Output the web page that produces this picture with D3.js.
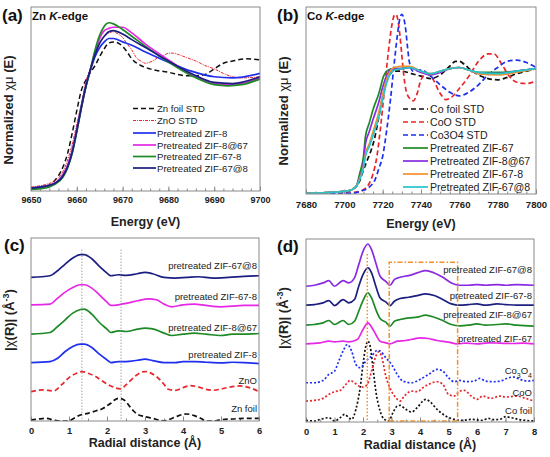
<!DOCTYPE html>
<html>
<head>
<meta charset="utf-8">
<script src="https://cdn.jsdelivr.net/npm/d3@7"></script>
<style>
  body { margin: 0; background: #fff; }
  svg { font-family: Arial, "Liberation Sans", sans-serif; }
</style>
</head>
<body>
<svg id="fig" width="550" height="457"></svg>
<script>
// ---------- (a) Zn K-edge XANES : [energy eV, normalized mu] ----------
const aZnFoil = [[9650,0.01],[9653,0.02],[9655,0.07],[9657,0.20],[9658,0.32],[9659,0.50],[9660,0.70],[9661,0.88],[9662,0.97],[9663,1.04],[9664,1.10],[9665,1.18],[9666,1.25],[9667,1.30],[9668,1.31],[9669,1.30],[9670,1.27],[9671,1.22],[9672,1.16],[9674,1.10],[9676,1.07],[9680,1.04],[9684,1.01],[9686,1.01],[9688,1.02],[9690,1.07],[9692,1.12],[9694,1.14],[9697,1.16],[9700,1.15]];
const aZnO = [[9650,0.02],[9655,0.07],[9657,0.16],[9658,0.26],[9659,0.40],[9660,0.58],[9661,0.76],[9662,0.96],[9663,1.08],[9664,1.21],[9665,1.30],[9666,1.36],[9667,1.39],[9668,1.40],[9669,1.38],[9670,1.35],[9671,1.29],[9672,1.24],[9673,1.17],[9674,1.14],[9675,1.12],[9676,1.13],[9677,1.15],[9678,1.18],[9679,1.19],[9680,1.21],[9681,1.21],[9682,1.20],[9684,1.17],[9686,1.14],[9688,1.10],[9690,1.07],[9692,1.03],[9694,1.00],[9696,0.99],[9700,1.00]];
const aZif8 = [[9650,0.01],[9655,0.05],[9657,0.13],[9658,0.21],[9659,0.34],[9660,0.53],[9661,0.74],[9662,0.92],[9663,1.06],[9664,1.18],[9665,1.26],[9666,1.31],[9667,1.34],[9668,1.34],[9670,1.31],[9672,1.28],[9675,1.22],[9680,1.13],[9685,1.05],[9690,1.00],[9694,0.99],[9700,1.03]];
const aZif8at67 = [[9650,0.01],[9655,0.05],[9657,0.13],[9658,0.21],[9659,0.34],[9660,0.53],[9661,0.73],[9662,0.92],[9663,1.07],[9664,1.22],[9665,1.34],[9666,1.41],[9667,1.43],[9668,1.44],[9670,1.44],[9672,1.39],[9675,1.29],[9680,1.15],[9685,1.02],[9690,0.94],[9693,0.93],[9696,0.94],[9700,0.99]];
const aZif67_8 = [[9650,0.00],[9653,0.01],[9655,0.04],[9657,0.11],[9658,0.19],[9659,0.32],[9660,0.51],[9661,0.72],[9662,0.91],[9663,1.07],[9664,1.24],[9665,1.37],[9666,1.45],[9667,1.48],[9668,1.47],[9670,1.42],[9672,1.36],[9675,1.27],[9680,1.13],[9685,1.01],[9690,0.93],[9693,0.92],[9696,0.93],[9700,0.98]];
const aZif67at8 = [[9650,0.01],[9655,0.05],[9657,0.12],[9658,0.20],[9659,0.33],[9660,0.52],[9661,0.73],[9662,0.92],[9663,1.07],[9664,1.20],[9665,1.30],[9666,1.36],[9667,1.40],[9668,1.41],[9670,1.38],[9672,1.33],[9675,1.26],[9680,1.14],[9685,1.03],[9690,0.95],[9694,0.94],[9700,1.00]];
const aLabels = ["Zn foil STD", "ZnO STD", "Pretreated ZIF-8", "Pretreated ZIF-8@67", "Pretreated ZIF-67-8", "Pretreated ZIF-67@8"];

// ---------- (b) Co K-edge XANES ----------
const bCoFoil = [[7680,0.00],[7700,0.01],[7705,0.04],[7708,0.10],[7710,0.19],[7712,0.27],[7714,0.35],[7716,0.46],[7718,0.62],[7720,0.78],[7722,0.91],[7724,0.97],[7726,0.99],[7730,0.99],[7735,0.97],[7740,0.95],[7745,0.93],[7750,0.96],[7755,1.03],[7758,1.07],[7760,1.07],[7763,1.04],[7766,1.00],[7770,0.96],[7775,0.93],[7780,0.92],[7785,0.94],[7790,0.97],[7795,0.99],[7800,1.01]];
const bCoO = [[7680,0.00],[7700,0.00],[7706,0.01],[7710,0.03],[7713,0.08],[7715,0.16],[7717,0.30],[7719,0.55],[7721,0.85],[7723,1.15],[7725,1.38],[7726,1.44],[7727,1.45],[7728,1.40],[7729,1.28],[7730,1.12],[7731,0.96],[7732,0.85],[7734,0.77],[7736,0.75],[7738,0.81],[7740,0.92],[7743,0.97],[7746,0.93],[7750,0.81],[7753,0.76],[7756,0.78],[7760,0.85],[7765,0.95],[7770,1.07],[7775,1.13],[7778,1.13],[7782,1.05],[7786,0.95],[7790,0.90],[7795,0.89],[7800,0.91]];
const bCo3O4 = [[7680,0.00],[7703,0.00],[7709,0.02],[7713,0.05],[7716,0.11],[7718,0.20],[7720,0.30],[7722,0.50],[7724,0.75],[7726,1.05],[7728,1.32],[7729,1.42],[7730,1.45],[7731,1.42],[7732,1.33],[7733,1.18],[7734,1.06],[7736,0.99],[7740,1.00],[7745,0.95],[7750,0.88],[7755,0.82],[7760,0.79],[7765,0.82],[7770,0.88],[7775,0.96],[7780,1.02],[7785,1.07],[7790,1.08],[7795,1.06],[7800,1.02]];
const bZif67 = [[7680,0.00],[7695,0.01],[7702,0.02],[7706,0.05],[7708,0.16],[7710,0.30],[7711,0.46],[7713,0.57],[7715,0.68],[7718,0.81],[7720.5,0.95],[7723,1.00],[7726,1.01],[7730,1.01],[7734,1.02],[7740,0.99],[7745,0.96],[7750,0.99],[7755,1.01],[7760,1.02],[7765,1.00],[7770,0.98],[7780,0.98],[7790,0.99],[7800,1.01]];
const bZif8at67 = [[7680,0.00],[7695,0.01],[7702,0.02],[7706,0.05],[7708,0.13],[7710,0.25],[7711,0.40],[7713,0.50],[7715,0.60],[7718,0.74],[7720,0.86],[7722,0.95],[7724,1.00],[7726,1.01],[7730,1.01],[7734,1.02],[7740,0.98],[7745,0.96],[7750,0.98],[7755,1.01],[7760,1.02],[7765,1.00],[7770,0.97],[7780,0.97],[7790,0.99],[7800,1.01]];
const bZif67_8 = [[7680,0.00],[7695,0.01],[7702,0.02],[7706,0.05],[7708,0.12],[7710,0.22],[7711,0.32],[7713,0.40],[7715,0.50],[7718,0.66],[7720,0.80],[7722,0.92],[7724,0.99],[7726,1.02],[7730,1.03],[7734,1.03],[7740,0.99],[7745,0.97],[7750,0.99],[7755,1.01],[7760,1.02],[7765,1.00],[7770,0.97],[7780,0.96],[7790,0.98],[7800,1.01]];
const bZif67at8 = [[7680,0.00],[7695,0.01],[7702,0.02],[7706,0.05],[7708,0.11],[7710,0.21],[7711,0.30],[7713,0.38],[7715,0.47],[7718,0.62],[7720,0.76],[7722,0.89],[7724,0.97],[7726,1.00],[7730,1.01],[7734,1.02],[7740,0.99],[7745,0.97],[7750,0.99],[7755,1.01],[7760,1.02],[7765,1.00],[7770,0.98],[7780,0.97],[7790,0.99],[7800,1.01]];
const bLabels = ["Co foil STD", "CoO STD", "Co3O4 STD", "Pretreated ZIF-67", "Pretreated ZIF-8@67", "Pretreated ZIF-67-8", "Pretreated ZIF-67@8"];

// ---------- (c) Zn EXAFS |chi(R)| (stacked, offsets included) ----------
const cZnFoil = [[0,0.03],[0.2,0.06],[0.4,0.08],[0.6,0.03],[0.8,0],[1.0,0],[1.1,0.06],[1.3,0.18],[1.5,0.23],[1.7,0.30],[1.9,0.38],[2.0,0.46],[2.1,0.53],[2.2,0.63],[2.3,0.68],[2.4,0.66],[2.5,0.58],[2.6,0.43],[2.7,0.30],[2.8,0.20],[3.0,0.13],[3.2,0.08],[3.4,0.02],[3.5,0],[3.6,0.03],[3.8,0.12],[4.0,0.20],[4.1,0.21],[4.3,0.16],[4.5,0.06],[4.6,0],[4.8,0],[5.0,0.04],[5.3,0.06],[5.6,0.08],[6.0,0.08]];
const cZnO = [[0,0.88],[0.3,0.93],[0.6,0.90],[0.8,1.08],[1.0,1.30],[1.2,1.43],[1.35,1.48],[1.5,1.43],[1.7,1.33],[1.9,1.18],[2.1,1.05],[2.35,0.96],[2.5,1.08],[2.7,1.30],[2.9,1.46],[3.0,1.48],[3.1,1.46],[3.3,1.33],[3.5,1.10],[3.6,0.96],[3.8,0.92],[4.0,1.00],[4.2,1.06],[4.4,1.02],[4.6,0.95],[4.8,0.92],[5.0,0.96],[5.3,1.03],[5.5,1.05],[5.8,0.98],[6.0,0.88]];
const cZif8 = [[0,1.75],[0.5,1.78],[0.7,1.88],[0.9,2.08],[1.1,2.23],[1.3,2.30],[1.4,2.30],[1.6,2.20],[1.8,2.00],[2.0,1.83],[2.1,1.75],[2.3,1.78],[2.5,1.78],[2.8,1.82],[3.0,1.85],[3.2,1.81],[3.5,1.75],[3.8,1.75],[4.0,1.78],[4.3,1.78],[4.6,1.76],[5.0,1.74],[5.3,1.76],[5.6,1.75],[6.0,1.72]];
const cZif8at67 = [[0,2.60],[0.5,2.65],[0.7,2.83],[0.9,3.03],[1.1,3.23],[1.3,3.34],[1.4,3.35],[1.6,3.20],[1.8,2.95],[2.0,2.75],[2.1,2.65],[2.3,2.70],[2.5,2.68],[2.8,2.75],[3.0,2.78],[3.2,2.76],[3.5,2.63],[3.7,2.56],[4.0,2.60],[4.3,2.63],[4.6,2.60],[5.0,2.56],[5.3,2.60],[5.6,2.60],[6.0,2.62]];
const cZif67_8 = [[0,3.48],[0.5,3.50],[0.7,3.68],[0.9,3.86],[1.1,4.00],[1.3,4.08],[1.4,4.08],[1.6,3.98],[1.8,3.78],[2.0,3.56],[2.1,3.46],[2.3,3.48],[2.5,3.52],[2.8,3.60],[3.1,3.66],[3.3,3.63],[3.5,3.50],[3.7,3.42],[4.0,3.48],[4.3,3.50],[4.6,3.46],[5.0,3.42],[5.3,3.44],[5.6,3.46],[6.0,3.46]];
const cZif67at8 = [[0,4.30],[0.5,4.35],[0.7,4.50],[0.9,4.70],[1.1,4.88],[1.3,4.98],[1.4,4.98],[1.6,4.86],[1.8,4.63],[2.0,4.43],[2.1,4.35],[2.3,4.38],[2.5,4.36],[2.8,4.41],[3.0,4.45],[3.2,4.41],[3.5,4.30],[3.8,4.28],[4.1,4.30],[4.4,4.32],[4.8,4.28],[5.2,4.30],[5.6,4.33],[6.0,4.35]];
const cLabels = ["Zn foil", "ZnO", "pretreated ZIF-8", "pretreated ZIF-8@67", "pretreated ZIF-67-8", "pretreated ZIF-67@8"];
const cMarkers = [1.34, 2.37];

// ---------- (d) Co EXAFS |chi(R)| ----------
const dCoFoil = [[0,0.05],[0.3,0.03],[0.5,0.08],[0.8,0.13],[1.0,0.03],[1.2,0.13],[1.35,0.23],[1.5,0.13],[1.6,0.08],[1.75,0.38],[1.9,1.03],[2.0,1.73],[2.1,2.28],[2.17,2.43],[2.25,2.28],[2.35,1.63],[2.45,0.93],[2.6,0.33],[2.75,0.08],[2.9,0.03],[3.05,0.28],[3.2,0.48],[3.3,0.50],[3.5,0.38],[3.7,0.30],[3.9,0.43],[4.1,0.63],[4.2,0.68],[4.35,0.61],[4.6,0.38],[4.9,0.18],[5.2,0.08],[5.5,0.05],[5.8,0.08],[6.2,0.05],[6.4,0.11],[6.6,0.07],[6.8,0.08],[7.0,0.16],[7.2,0.13],[7.5,0.07],[8.0,0.03]];
const dCoO = [[0,0.63],[0.3,0.65],[0.6,0.71],[0.8,0.83],[1.0,0.91],[1.2,0.95],[1.4,1.13],[1.55,1.25],[1.7,1.18],[1.85,1.08],[2.0,1.05],[2.15,1.13],[2.3,1.53],[2.45,1.98],[2.55,2.11],[2.65,1.98],[2.8,1.38],[3.0,0.93],[3.15,0.73],[3.3,0.63],[3.45,0.78],[3.7,0.93],[3.9,0.91],[4.1,1.03],[4.3,1.13],[4.6,1.21],[4.8,1.13],[5.0,0.83],[5.2,0.78],[5.4,0.93],[5.55,0.95],[5.8,0.78],[6.0,0.68],[6.2,0.78],[6.5,0.71],[6.8,0.78],[7.0,0.75],[7.4,0.78],[7.7,0.71],[8.0,0.63]];
const dCo3O4 = [[0,1.18],[0.3,1.18],[0.6,1.25],[0.8,1.43],[1.0,1.53],[1.15,1.83],[1.3,2.13],[1.45,2.33],[1.6,2.13],[1.75,1.73],[1.9,1.63],[2.1,1.83],[2.3,1.98],[2.5,2.15],[2.6,2.13],[2.8,1.93],[3.0,1.73],[3.2,1.43],[3.4,1.23],[3.7,1.18],[4.0,1.28],[4.3,1.43],[4.6,1.58],[4.8,1.53],[5.0,1.33],[5.2,1.21],[5.4,1.25],[5.6,1.21],[5.9,1.23],[6.1,1.31],[6.3,1.23],[6.6,1.21],[6.9,1.25],[7.1,1.33],[7.3,1.35],[7.5,1.28],[7.8,1.23],[8.0,1.25]];
const dZif67 = [[0,2.35],[0.5,2.38],[0.8,2.43],[1.0,2.41],[1.3,2.43],[1.5,2.41],[1.8,2.48],[2.0,2.78],[2.17,2.98],[2.35,2.78],[2.6,2.43],[2.8,2.38],[2.95,2.35],[3.2,2.43],[3.5,2.45],[3.8,2.50],[4.0,2.53],[4.3,2.51],[4.6,2.45],[5.0,2.40],[5.3,2.35],[5.6,2.37],[6.0,2.35],[6.4,2.38],[6.8,2.37],[7.2,2.36],[7.6,2.37],[8.0,2.35]];
const dZif8at67 = [[0,2.91],[0.3,2.93],[0.6,2.98],[0.8,3.05],[1.0,2.93],[1.3,3.05],[1.5,2.93],[1.7,3.03],[1.85,3.33],[2.0,3.65],[2.17,3.88],[2.3,3.73],[2.45,3.38],[2.6,3.11],[2.8,3.00],[2.95,2.88],[3.1,3.03],[3.3,3.08],[3.6,3.13],[3.9,3.15],[4.2,3.21],[4.5,3.15],[4.8,3.05],[5.1,2.93],[5.4,2.89],[5.7,2.91],[6.0,2.95],[6.3,2.91],[6.7,2.93],[7.0,2.95],[7.4,2.91],[8.0,2.88]];
const dZif67_8 = [[0,3.51],[0.3,3.53],[0.6,3.58],[0.8,3.65],[1.0,3.50],[1.3,3.68],[1.5,3.58],[1.7,3.68],[1.85,4.08],[2.0,4.43],[2.17,4.63],[2.3,4.48],[2.45,4.08],[2.6,3.73],[2.8,3.61],[2.95,3.50],[3.1,3.63],[3.3,3.71],[3.6,3.75],[3.9,3.80],[4.2,3.85],[4.5,3.80],[4.8,3.68],[5.1,3.55],[5.4,3.51],[5.7,3.53],[6.0,3.55],[6.3,3.51],[6.7,3.55],[7.0,3.53],[7.4,3.51],[8.0,3.51]];
const dZif67at8 = [[0,4.08],[0.3,4.11],[0.6,4.18],[0.8,4.25],[1.0,4.08],[1.3,4.25],[1.5,4.18],[1.7,4.33],[1.85,4.73],[2.0,5.13],[2.17,5.35],[2.3,5.18],[2.45,4.78],[2.6,4.38],[2.8,4.23],[2.95,4.11],[3.1,4.28],[3.3,4.35],[3.6,4.40],[3.9,4.48],[4.2,4.55],[4.5,4.48],[4.8,4.35],[5.1,4.18],[5.4,4.11],[5.7,4.11],[6.0,4.13],[6.3,4.11],[6.7,4.13],[7.0,4.11],[7.4,4.13],[8.0,4.11]];
const dLabels = ["Co foil", "CoO", "Co3O4", "pretreated ZIF-67", "pretreated ZIF-8@67", "pretreated ZIF-67-8", "pretreated ZIF-67@8"];
const dMarker = 2.15;
const dBox = [2.92, 5.32, 4.80];  // R from, R to, height

// ---------- styles ----------
const C = {
  black: "#111", red: "#e8262b", blue: "#1f2ff0", magenta: "#e627e6",
  green: "#1d8a26", navy: "#1c1f80", purple: "#8a2be2", orange: "#f0922b", cyan: "#28c4cc"
};
const frameColor = "#8a8a8a";
const LW = 1.7;

const svg = d3.select("#fig");
let clipId = 0;

function panel(p) {
  const x = d3.scaleLinear().domain(p.xDomain).range([p.left, p.right]);
  const y = d3.scaleLinear().domain(p.yDomain).range([p.bottom, p.top]);
  const g = svg.append("g");

  // minor + major ticks, pointing inward
  const minor = d3.range(p.xDomain[0], p.xDomain[1] + 1e-9, p.minor);
  const major = d3.range(p.xDomain[0], p.xDomain[1] + 1e-9, p.major);
  g.append("g")
    .attr("transform", `translate(0,${p.bottom})`)
    .call(d3.axisBottom(x).tickValues(minor).tickSize(-2.5).tickFormat(""))
    .call(a => a.select(".domain").remove())
    .call(a => a.selectAll("line").attr("stroke", frameColor));
  const ax = g.append("g")
    .attr("transform", `translate(0,${p.bottom})`)
    .call(d3.axisBottom(x).tickValues(major).tickSize(-4.5).tickPadding(p.pad).tickFormat(d3.format("d")));
  ax.select(".domain").remove();
  ax.selectAll("line").attr("stroke", frameColor);
  ax.selectAll("text").attr("font-size", p.tickFont).attr("font-weight", "bold").attr("fill", "#222")
    .attr("font-family", "Arial, 'Liberation Sans', sans-serif");

  const id = "clip" + (clipId++);
  svg.append("clipPath").attr("id", id).append("rect")
    .attr("x", p.left).attr("y", p.top).attr("width", p.right - p.left).attr("height", p.bottom - p.top);

  const plot = g.append("g").attr("clip-path", `url(#${id})`);
  const line = d3.line().x(d => x(d[0])).y(d => y(d[1])).curve(d3.curveMonotoneX);
  p.series.forEach(s => {
    plot.append("path").datum(s.data)
      .attr("fill", "none").attr("stroke", s.color).attr("stroke-width", s.w || LW)
      .attr("stroke-dasharray", s.dash || null).attr("d", line);
  });

  g.append("rect").attr("x", p.left).attr("y", p.top)
    .attr("width", p.right - p.left).attr("height", p.bottom - p.top)
    .attr("fill", "none").attr("stroke", frameColor).attr("stroke-width", 1);

  // axis title
  g.append("text").attr("x", (p.left + p.right) / 2).attr("y", p.titleY)
    .attr("text-anchor", "middle").attr("font-size", 12.5).attr("font-weight", "bold").attr("fill", "#222")
    .text(p.xTitle);
  return { x, y, g, plot };
}

function yTitle(cx, cy, build) {
  const t = svg.append("text").attr("transform", `translate(${cx},${cy}) rotate(-90)`)
    .attr("text-anchor", "middle").attr("font-size", 13).attr("font-weight", "bold").attr("fill", "#222");
  build(t);
}

function panelLabel(x, y, letter, edge) {
  svg.append("text").attr("x", x).attr("y", y).attr("font-size", 17).attr("font-weight", "bold").attr("fill", "#111").text(`(${letter})`);
  if (edge) {
    const t = svg.append("text").attr("x", x + 30).attr("y", y - 1).attr("font-size", 11.5).attr("font-weight", "bold").attr("fill", "#111");
    t.append("tspan").text(edge[0] + " ");
    t.append("tspan").attr("font-style", "italic").text("K");
    t.append("tspan").text("-edge");
  }
}

// ---------- (a) ----------
const aSeries = [
  { data: aZnFoil, color: C.black, dash: "5,3", w: 1.5 },
  { data: aZnO, color: C.red, dash: "3,1,1,1", w: 1 },
  { data: aZif8, color: C.blue },
  { data: aZif8at67, color: C.magenta },
  { data: aZif67_8, color: C.green },
  { data: aZif67at8, color: C.navy }
];
const pa = panel({ left: 31, right: 260, top: 7, bottom: 191, xDomain: [9650, 9700], yDomain: [-0.015, 1.62],
  major: 10, minor: 2, tickFont: 9, pad: 6, titleY: 226, xTitle: "Energy (eV)", series: aSeries });
const aRows = [108.5, 120.5, 133, 145, 156.5, 168];
aLabels.forEach((name, i) => {
  const s = aSeries[i];
  pa.g.append("line").attr("x1", 133).attr("x2", 156).attr("y1", aRows[i]).attr("y2", aRows[i])
    .attr("stroke", s.color).attr("stroke-width", s.w || LW).attr("stroke-dasharray", s.dash || null);
  pa.g.append("text").attr("x", 157).attr("y", aRows[i] + 3.5).attr("font-size", 9.6).attr("fill", "#222").text(name);
});
panelLabel(2, 21, "a", ["Zn"]);
yTitle(13, 110, t => {
  t.append("tspan").text("Normalized ");
  t.append("tspan").attr("font-weight", "normal").text("χμ");
  t.append("tspan").text(" (E)");
});

// ---------- (b) ----------
const bSeries = [
  { data: bCoFoil, color: C.black, dash: "5,3" },
  { data: bCoO, color: C.red, dash: "5,3" },
  { data: bCo3O4, color: C.blue, dash: "5,3" },
  { data: bZif67, color: C.green },
  { data: bZif8at67, color: C.purple },
  { data: bZif67_8, color: C.orange },
  { data: bZif67at8, color: C.cyan }
];
const pb = panel({ left: 306, right: 536, top: 7, bottom: 194, xDomain: [7680, 7800], yDomain: [-0.005, 1.51],
  major: 20, minor: 5, tickFont: 9.6, pad: 7, titleY: 228, xTitle: "Energy (eV)", series: bSeries });
const bRows = [109, 122, 135, 148, 161, 174, 187];
bLabels.forEach((name, i) => {
  const s = bSeries[i];
  pb.g.append("line").attr("x1", 403).attr("x2", 428).attr("y1", bRows[i]).attr("y2", bRows[i])
    .attr("stroke", s.color).attr("stroke-width", LW).attr("stroke-dasharray", s.dash || null);
  pb.g.append("text").attr("x", 430).attr("y", bRows[i] + 4).attr("font-size", 10.6).attr("fill", "#222").text(name);
});
panelLabel(277, 21, "b", ["Co"]);
yTitle(288, 111, t => {
  t.append("tspan").text("Normalized ");
  t.append("tspan").attr("font-weight", "normal").text("χμ");
  t.append("tspan").text(" (E)");
});

// ---------- (c) ----------
const cSeries = [
  { data: cZnFoil, color: C.black, dash: "5,3" },
  { data: cZnO, color: C.red, dash: "5,3" },
  { data: cZif8, color: C.blue },
  { data: cZif8at67, color: C.green },
  { data: cZif67_8, color: C.magenta },
  { data: cZif67at8, color: C.navy }
];
const pc = panel({ left: 31, right: 259, top: 238, bottom: 421, xDomain: [0, 6], yDomain: [0, 5.48],
  major: 1, minor: 0.5, tickFont: 9.4, pad: 6, titleY: 447, xTitle: "Radial distance (Å)", series: cSeries });
cMarkers.forEach(r => {
  pc.plot.append("line").attr("x1", pc.x(r)).attr("x2", pc.x(r)).attr("y1", pc.y(5.13)).attr("y2", pc.y(0))
    .attr("stroke", "#777").attr("stroke-width", 1).attr("stroke-dasharray", "1,2");
});
const cRows = [408, 380, 354, 327, 296, 265];
cLabels.forEach((name, i) => {
  pc.g.append("text").attr("x", 257).attr("y", cRows[i] + 3.5).attr("text-anchor", "end")
    .attr("font-size", 9.5).attr("fill", "#222").text(name);
});
panelLabel(4, 251, "c");
yTitle(14, 320, t => {
  t.append("tspan").text("|");
  t.append("tspan").attr("font-weight", "normal").text("χ");
  t.append("tspan").text("(R)| (Å");
  t.append("tspan").attr("baseline-shift", "super").attr("font-size", 9).text("-3");
  t.append("tspan").text(")");
});

// ---------- (d) ----------
const dSeries = [
  { data: dCoFoil, color: C.black, dash: "2,2" },
  { data: dCoO, color: C.red, dash: "2,2" },
  { data: dCo3O4, color: C.blue, dash: "2,2" },
  { data: dZif67, color: C.magenta },
  { data: dZif8at67, color: C.green },
  { data: dZif67_8, color: C.navy },
  { data: dZif67at8, color: C.purple }
];
const pd = panel({ left: 306, right: 534, top: 239, bottom: 422, xDomain: [0, 8], yDomain: [0, 5.50],
  major: 1, minor: 0.5, tickFont: 9.4, pad: 6, titleY: 449, xTitle: "Radial distance (Å)", series: dSeries });
pd.plot.append("line").attr("x1", pd.x(dMarker)).attr("x2", pd.x(dMarker)).attr("y1", pd.y(5.05)).attr("y2", pd.y(0))
  .attr("stroke", C.orange).attr("stroke-width", 1.5).attr("stroke-dasharray", "1.5,2");
pd.plot.append("path")
  .attr("d", `M${pd.x(dBox[0])},${pd.y(0)}V${pd.y(dBox[2])}H${pd.x(dBox[1])}V${pd.y(0)}`)
  .attr("fill", "none").attr("stroke", C.orange).attr("stroke-width", 1.5).attr("stroke-dasharray", "5,2,1.5,2");
pd.plot.append("line").attr("x1", pd.x(dBox[0])).attr("x2", pd.x(dBox[1])).attr("y1", pd.y(0) - 1).attr("y2", pd.y(0) - 1)
  .attr("stroke", C.orange).attr("stroke-width", 1.5).attr("stroke-dasharray", "5,2,1.5,2");
const dRows = [410, 392, 370, 338, 314, 295, 269];
dLabels.forEach((name, i) => {
  const t = pd.g.append("text").attr("x", 532).attr("y", dRows[i] + 3.5).attr("text-anchor", "end")
    .attr("font-size", 9.5).attr("fill", "#222");
  if (name === "Co3O4") {
    t.append("tspan").text("Co");
    t.append("tspan").attr("baseline-shift", "sub").attr("font-size", 7).text("3");
    t.append("tspan").text("O");
    t.append("tspan").attr("baseline-shift", "sub").attr("font-size", 7).text("4");
  } else {
    t.text(name);
  }
});
panelLabel(277, 252, "d");
yTitle(288, 318, t => {
  t.append("tspan").text("|");
  t.append("tspan").attr("font-weight", "normal").text("χ");
  t.append("tspan").text("(R)| (Å");
  t.append("tspan").attr("baseline-shift", "super").attr("font-size", 9).text("-3");
  t.append("tspan").text(")");
});
</script>
</body>
</html>
